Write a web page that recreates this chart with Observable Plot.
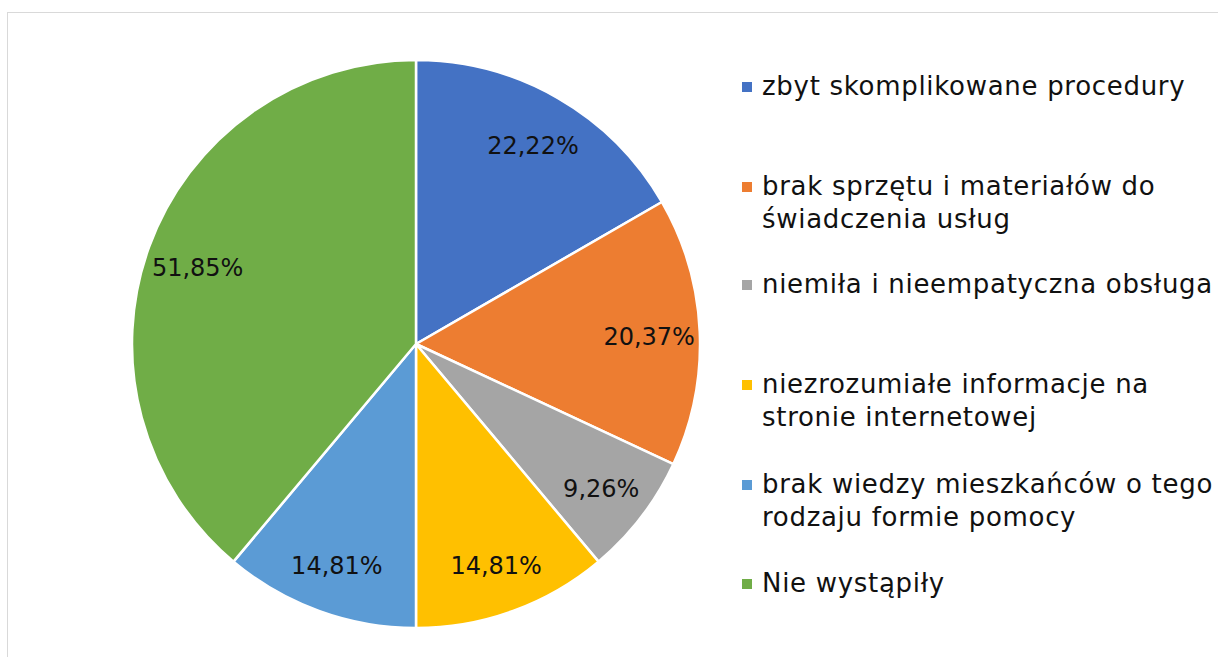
<!DOCTYPE html>
<html><head><meta charset="utf-8">
<script src="https://cdn.jsdelivr.net/npm/d3@7"></script>
<script src="https://cdn.jsdelivr.net/npm/@observablehq/plot@0.6"></script>
<style>
body{margin:0;background:#fff;}
#wrap{position:relative;width:1218px;height:657px;overflow:hidden;background:#fff;}
#frame{position:absolute;left:7px;top:12px;width:1240px;height:700px;border:1.5px solid #d9d9d9;box-sizing:border-box;}
#chart{position:absolute;left:0;top:0;}
.item{position:absolute;left:762px;font-family:"DejaVu Sans",sans-serif;font-size:26px;letter-spacing:0.7px;line-height:33px;color:#111;white-space:nowrap;}
.sw{position:absolute;left:-20px;top:12px;width:10px;height:10px;}
</style></head>
<body><div id="wrap"><div id="frame"></div><div id="chart"></div><div id="legend"></div></div>
<script>
const categories = [
  "zbyt skomplikowane procedury",
  "brak sprzętu i materiałów do\nświadczenia usług",
  "niemiła i nieempatyczna obsługa",
  "niezrozumiałe informacje na\nstronie internetowej",
  "brak wiedzy mieszkańców o tego\nrodzaju formie pomocy",
  "Nie wystąpiły"
];
const values = [22.22, 20.37, 9.26, 14.81, 14.81, 51.85];
const valueLabels = ["22,22%", "20,37%", "9,26%", "14,81%", "14,81%", "51,85%"];
const colors = ["#4472C4", "#ED7D31", "#A5A5A5", "#FFC000", "#5B9BD5", "#70AD47"];

const W = 1218, H = 657, CX = 416, CY = 344, R = 284;

const arcs = d3.pie().sort(null).value(d => d.value)(
  categories.map((c, i) => ({cat: c, value: values[i], label: valueLabels[i]}))
);
const mid = a => (a.startAngle + a.endAngle) / 2;

const chart = Plot.plot({
  width: W, height: H,
  margin: 0,
  x: {domain: [-CX / R, (W - CX) / R], axis: null},
  y: {domain: [-(H - CY) / R, CY / R], axis: null},
  color: {domain: categories, range: colors},
  style: {background: "transparent"},
  marks: [
    Plot.dot(arcs, {
      x: () => 0, y: () => 0, fill: d => d.data.cat,
      render(index, scales, vals) {
        const cx = scales.x(0), cy = scales.y(0), r = scales.x(1) - cx;
        const arc = d3.arc().innerRadius(0).outerRadius(r);
        const g = d3.create("svg:g").attr("transform", `translate(${cx},${cy})`);
        for (const i of index) {
          g.append("path").attr("d", arc(arcs[i]))
            .attr("fill", vals.fill[i])
            .attr("stroke", "#fff").attr("stroke-width", 2.5).attr("stroke-linejoin", "round");
        }
        return g.node();
      }
    }),
    Plot.text(arcs, {
      x: d => 0.82 * Math.sin(mid(d)),
      y: d => 0.82 * Math.cos(mid(d)),
      text: d => d.data.label,
      fontSize: 24, fill: "#111", dy: 3,
      fontFamily: "DejaVu Sans"
    })
  ]
});
document.getElementById("chart").append(chart);

const legendTops = [70, 170, 268, 368, 468, 567];
const legend = document.getElementById("legend");
categories.forEach((c, i) => {
  const d = document.createElement("div");
  d.className = "item";
  d.style.top = legendTops[i] + "px";
  d.innerHTML = `<span class="sw" style="background:${colors[i]}"></span>` + c.split("\n").join("<br>");
  legend.append(d);
});
</script></body></html>
